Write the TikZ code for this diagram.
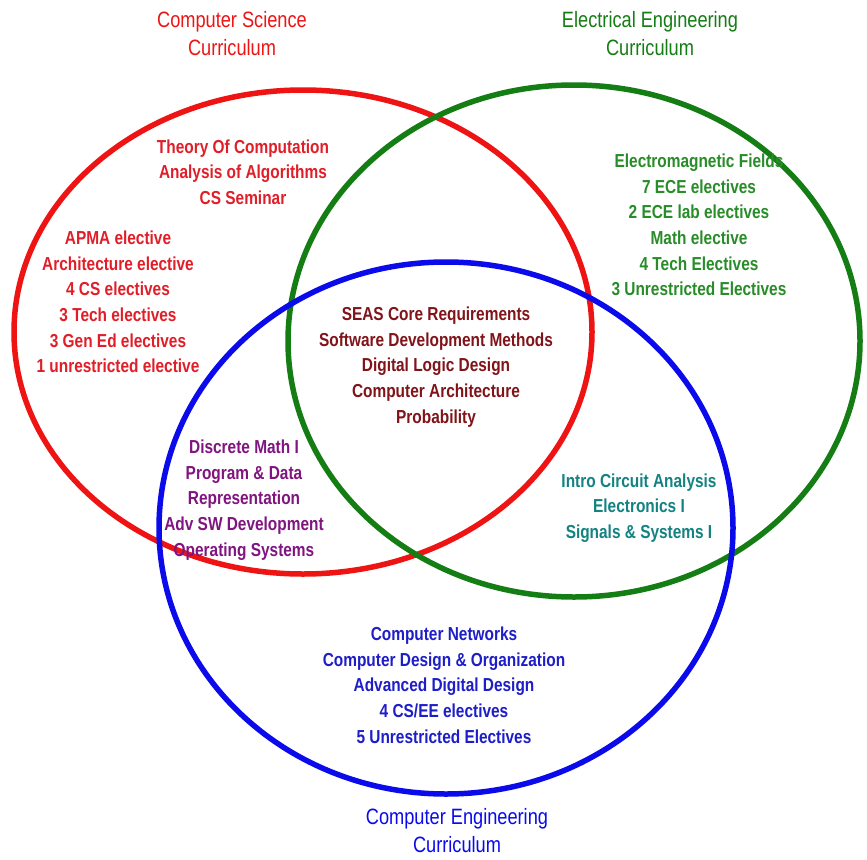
\documentclass[tikz,border=0pt]{standalone}
\usepackage{fontspec}
\setmainfont{Liberation Sans}[FakeStretch=0.82]
\definecolor{ringred}{RGB}{238,20,20}
\definecolor{ringgreen}{RGB}{20,125,20}
\definecolor{ringblue}{RGB}{10,10,235}
\definecolor{txtred}{RGB}{225,30,40}
\definecolor{txtgreen}{RGB}{40,140,40}
\definecolor{txtmaroon}{RGB}{128,20,25}
\definecolor{txtpurple}{RGB}{128,20,128}
\definecolor{txtteal}{RGB}{20,130,130}
\definecolor{txtblue}{RGB}{30,30,200}
\tikzset{
  ring/.style={line width=5.5pt},
  listtext/.style={align=center, inner sep=0pt, font=\bfseries\fontsize{18.8}{25.7}\selectfont},
  headtext/.style={align=center, inner sep=0pt, font=\fontsize{22.2}{28}\selectfont}
}
\begin{document}
\begin{tikzpicture}[x=1pt,y=-1pt]
\useasboundingbox (0,0) rectangle (867,859);
\fill[white] (0,0) rectangle (867,859);
\draw[ring, ringred] (303,332) ellipse [x radius=289, y radius=242];
\draw[ring, ringgreen] (574,341) ellipse [x radius=286, y radius=256];
\draw[ring, ringblue] (446,528) ellipse [x radius=287, y radius=266];

\node[headtext, text=ringred] (hcs) at (232,34) {Computer Science\\Curriculum};
\node[headtext, text=ringgreen] (hee) at (650,34) {Electrical Engineering\\Curriculum};
\node[headtext, text=ringblue] (hce) at (457,831) {Computer Engineering\\Curriculum};

\node[listtext, text=txtred] (cs1) at (243,172) {Theory Of Computation\\Analysis of Algorithms\\CS Seminar};
\node[listtext, text=txtred] (cs2) at (118,302) {APMA elective\\Architecture elective\\4 CS electives\\3 Tech electives\\3 Gen Ed electives\\1 unrestricted elective};
\node[listtext, text=txtgreen] (ee1) at (699,225) {Electromagnetic Fields\\7 ECE electives\\2 ECE lab electives\\Math elective\\4 Tech Electives\\3 Unrestricted Electives};
\node[listtext, text=txtmaroon] (core) at (436,367) {SEAS Core Requirements\\Software Development Methods\\Digital Logic Design\\Computer Architecture\\Probability};
\node[listtext, text=txtpurple] (csce) at (244,500) {Discrete Math I\\Program \& Data\\Representation\\Adv SW Development\\Operating Systems};
\node[listtext, text=txtteal] (eece) at (639,508) {Intro Circuit Analysis\\Electronics I\\Signals \& Systems I};
\node[listtext, text=txtblue] (ce) at (444,685) {Computer Networks\\Computer Design \& Organization\\Advanced Digital Design\\4 CS/EE electives\\5 Unrestricted Electives};
\end{tikzpicture}
\end{document}
